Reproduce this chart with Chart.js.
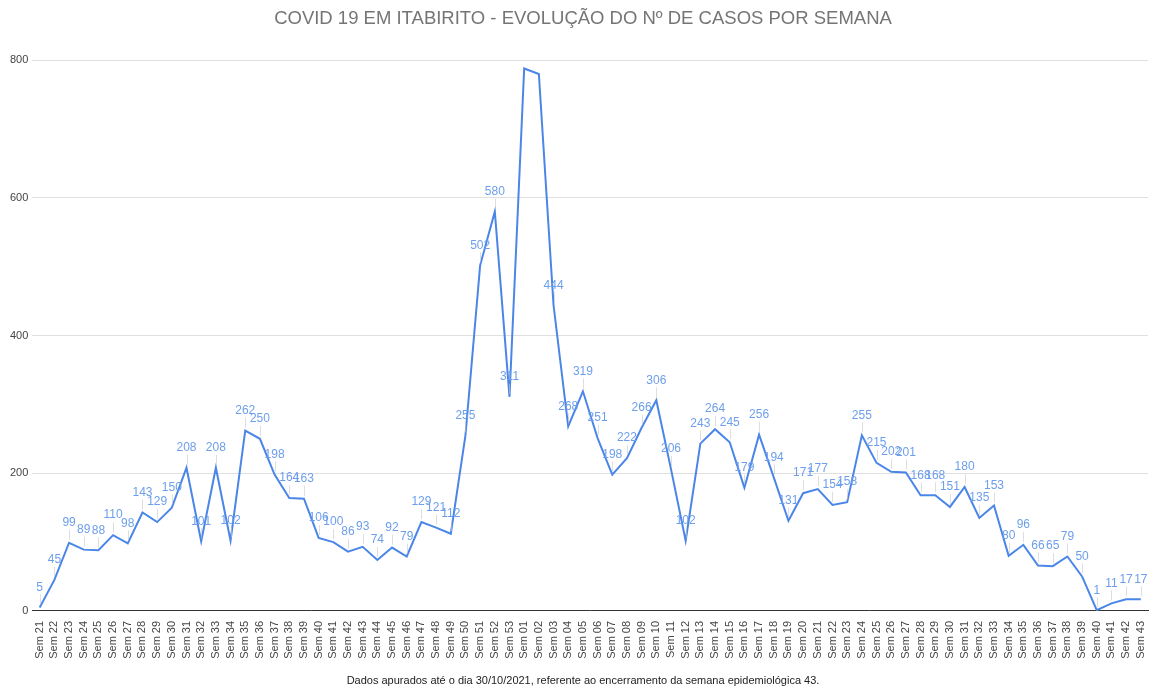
<!DOCTYPE html>
<html>
<head>
<meta charset="utf-8">
<script src="https://cdn.jsdelivr.net/npm/chart.js"></script>
<style>
  html, body { margin: 0; padding: 0; background: #fff; }
  #wrap { width: 1156px; height: 689px; }
</style>
</head>
<body>
<div id="wrap"><canvas id="casosChart"></canvas></div>
<script>
// semanas epidemiologicas: 2020 (21-53) e 2021 (01-43)
const weeks2020 = ['21','22','23','24','25','26','27','28','29','30','31','32','33','34','35','36','37',
  '38','39','40','41','42','43','44','45','46','47','48','49','50','51','52','53'];
const weeks2021 = ['01','02','03','04','05','06','07','08','09','10','11','12','13','14','15','16','17',
  '18','19','20','21','22','23','24','25','26','27','28','29','30','31','32','33','34','35','36','37',
  '38','39','40','41','42','43'];
const labels = [...weeks2020, ...weeks2021].map(w => `Sem ${w}`);

const cases2020 = [5, 45, 99, 89, 88, 110, 98, 143, 129, 150, 208, 101, 208, 102, 262, 250, 198,
  164, 163, 106, 100, 86, 93, 74, 92, 79, 129, 121, 112, 255, 502, 580, 311];
const cases2021 = [788, 780, 444, 268, 319, 251, 198, 222, 266, 306, 206, 102, 243, 264, 245, 179, 256,
  194, 131, 171, 177, 154, 158, 255, 215, 202, 201, 168, 168, 151, 180, 135, 153, 80, 96, 66, 65,
  79, 50, 1, 11, 17, 17];
const cases = [...cases2020, ...cases2021];

const yTicks = [0, 200, 400, 600, 800];

// rotulos de valor acima de cada ponto (sem plugin externo)
const pointLabels = {
  id: 'pointLabels',
  afterDatasetsDraw(chart) {
    const { ctx, chartArea } = chart;
    const meta = chart.getDatasetMeta(0);
    const data = chart.data.datasets[0].data;
    ctx.save();
    ctx.font = '12px "Liberation Sans", Arial, sans-serif';
    ctx.textAlign = 'center';
    ctx.textBaseline = 'middle';
    meta.data.forEach((pt, i) => {
      const ly = pt.y - 20;
      if (ly - 6 < chartArea.top) return;
      ctx.strokeStyle = 'rgba(200,200,200,0.6)';
      ctx.lineWidth = 1;
      ctx.beginPath();
      ctx.moveTo(Math.round(pt.x) + 0.5, ly + 7);
      ctx.lineTo(Math.round(pt.x) + 0.5, pt.y - 3);
      ctx.stroke();
      ctx.fillStyle = '#6d9eeb';
      ctx.fillText(String(data[i]), pt.x, ly);
    });
    ctx.restore();
  }
};

const ctx = document.getElementById('casosChart').getContext('2d');
new Chart(ctx, {
  type: 'line',
  data: {
    labels: labels,
    datasets: [{
      data: cases,
      borderColor: '#4a86e8',
      borderWidth: 2,
      pointRadius: 0,
      tension: 0,
      fill: false
    }]
  },
  options: {
    responsive: true,
    maintainAspectRatio: false,
    animation: false,
    layout: { padding: { left: 6, right: -4, top: 0, bottom: 0 } },
    plugins: {
      legend: { display: false },
      tooltip: { enabled: false },
      title: {
        display: true,
        text: 'COVID 19 EM ITABIRITO - EVOLUÇÃO DO Nº DE CASOS POR SEMANA',
        color: '#757575',
        font: { family: '"Liberation Sans", Arial, sans-serif', size: 18.5, weight: 'normal' },
        padding: { top: 8, bottom: 30 }
      },
      subtitle: {
        display: true,
        position: 'bottom',
        text: 'Dados apurados até o dia 30/10/2021, referente ao encerramento da semana epidemiológica 43.',
        color: '#222',
        font: { family: '"Liberation Sans", Arial, sans-serif', size: 11 },
        padding: { top: 14, bottom: 1 }
      }
    },
    scales: {
      x: {
        offset: true,
        grid: { display: false },
        border: { display: true, color: '#333', width: 1 },
        ticks: {
          autoSkip: false,
          minRotation: 90,
          maxRotation: 90,
          color: '#444',
          padding: 2,
          font: { family: '"Liberation Sans", Arial, sans-serif', size: 11 }
        }
      },
      y: {
        min: yTicks[0],
        max: yTicks[yTicks.length - 1],
        afterBuildTicks: axis => { axis.ticks = yTicks.map(v => ({ value: v })); },
        grid: { color: '#e0e0e0', drawTicks: false },
        border: { display: false },
        ticks: {
          color: '#444',
          padding: 4,
          font: { family: '"Liberation Sans", Arial, sans-serif', size: 11 }
        }
      }
    }
  },
  plugins: [pointLabels]
});
</script>
</body>
</html>
